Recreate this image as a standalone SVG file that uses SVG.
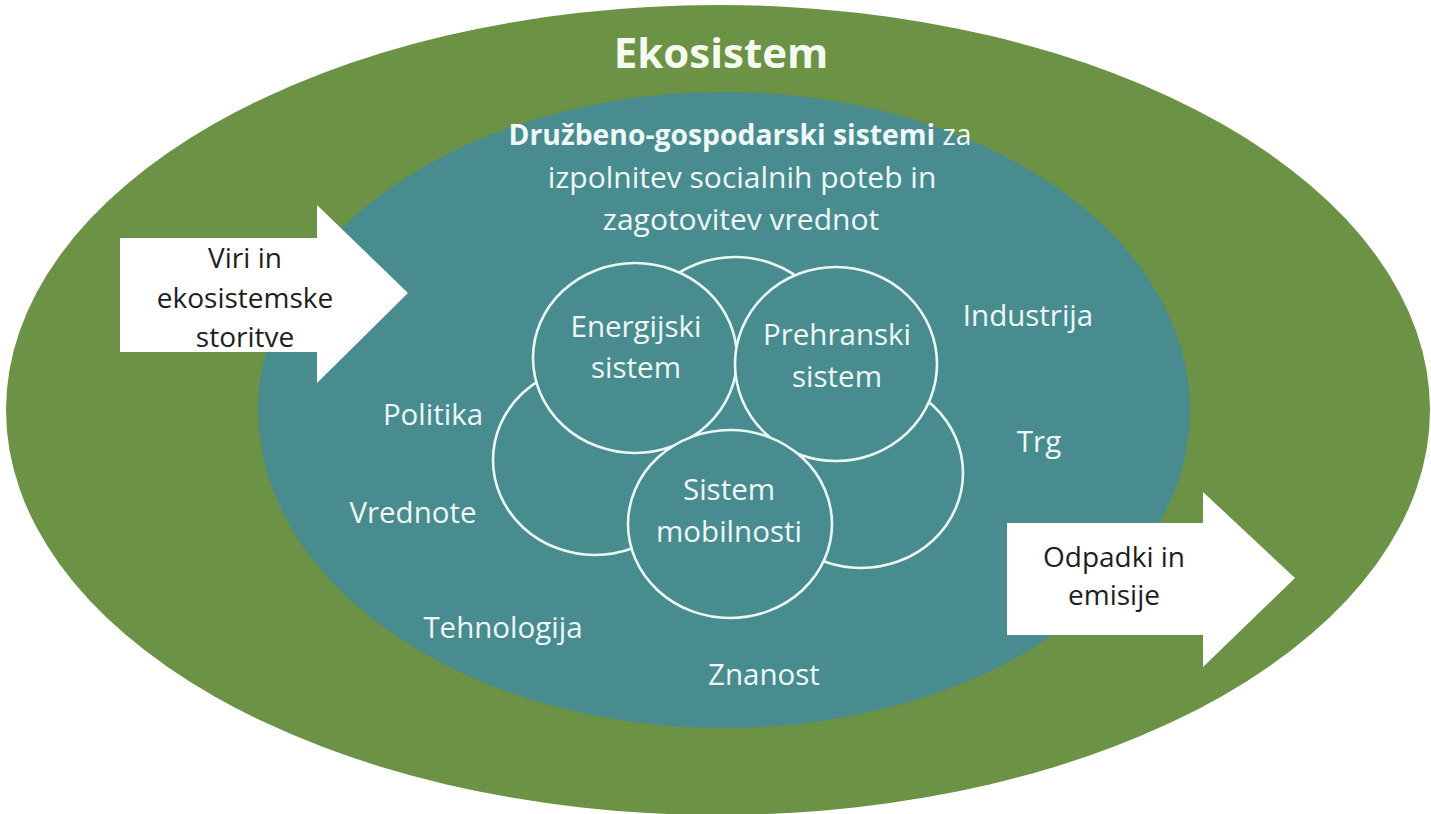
<svg xmlns="http://www.w3.org/2000/svg" width="1431" height="814" viewBox="0 0 1431 814">
  <style>
    .lbl { font-family: "Open Sans", "Noto Sans", "Liberation Sans", sans-serif; font-size: 29.5px; fill: #EEF8F6; text-anchor: middle; }
    .hdr { font-family: "Open Sans", "Noto Sans", "Liberation Sans", sans-serif; font-size: 30px; fill: #EEF8F6; text-anchor: middle; }
    .hdr1 { font-size: 28.3px; }
    .dark { font-family: "Open Sans", "Noto Sans", "Liberation Sans", sans-serif; font-size: 28px; fill: #1E1E1E; text-anchor: middle; }
    .title { font-family: "Open Sans", "Noto Sans", "Liberation Sans", sans-serif; font-size: 42px; font-weight: bold; fill: #F4FAF0; text-anchor: middle; }
    .circ { fill: #488C90; stroke: #EAF7F5; stroke-width: 2.6; }
    .arrow { fill: #FFFFFF; }
  </style>
  <rect width="1431" height="814" fill="#FFFFFF"/>
  <g id="ekosistem">
    <ellipse cx="718" cy="410" rx="712" ry="405" fill="#6B9245"/>
    <text class="title" x="721" y="68">Ekosistem</text>
  </g>
  <g id="druzbeno-gospodarski">
    <ellipse cx="724" cy="410" rx="466" ry="318" fill="#488C90"/>
    <text class="hdr hdr1" x="740" y="145"><tspan font-weight="bold">Družbeno-gospodarski sistemi</tspan> za</text>
    <text class="hdr" x="742" y="188">izpolnitev socialnih poteb in</text>
    <text class="hdr" x="741" y="230">zagotovitev vrednot</text>
  </g>
  <g id="background-circles">
    <ellipse class="circ" cx="735" cy="352" rx="102" ry="95"/>
    <ellipse class="circ" cx="595" cy="460" rx="102" ry="95"/>
    <ellipse class="circ" cx="861" cy="473" rx="102" ry="95"/>
  </g>
  <g id="energijski-sistem">
    <ellipse class="circ" cx="635" cy="358" rx="102" ry="95"/>
    <text class="lbl" x="636" y="337">Energijski</text>
    <text class="lbl" x="636" y="378">sistem</text>
  </g>
  <g id="prehranski-sistem">
    <ellipse class="circ" cx="836" cy="364" rx="101" ry="97"/>
    <text class="lbl" x="837" y="345">Prehranski</text>
    <text class="lbl" x="837" y="387">sistem</text>
  </g>
  <g id="sistem-mobilnosti">
    <ellipse class="circ" cx="730" cy="524" rx="102" ry="94"/>
    <text class="lbl" x="729" y="500">Sistem</text>
    <text class="lbl" x="729" y="542">mobilnosti</text>
  </g>
  <g id="labels">
    <text class="lbl" x="1028" y="326">Industrija</text>
    <text class="lbl" x="1039" y="452">Trg</text>
    <text class="lbl" x="433" y="425">Politika</text>
    <text class="lbl" x="413" y="523">Vrednote</text>
    <text class="lbl" x="503" y="638">Tehnologija</text>
    <text class="lbl" x="764" y="685">Znanost</text>
  </g>
  <g id="viri-arrow">
    <polygon class="arrow" points="120,238 317,238 317,205 408,293 317,383 317,352 120,352"/>
    <text class="dark" x="245" y="268">Viri in</text>
    <text class="dark" x="245" y="308">ekosistemske</text>
    <text class="dark" x="245" y="347">storitve</text>
  </g>
  <g id="odpadki-arrow">
    <polygon class="arrow" points="1007,523 1203,523 1203,492 1295,578 1203,667 1203,635 1007,635"/>
    <text class="dark" x="1114" y="567">Odpadki in</text>
    <text class="dark" x="1114" y="605">emisije</text>
  </g>
</svg>
